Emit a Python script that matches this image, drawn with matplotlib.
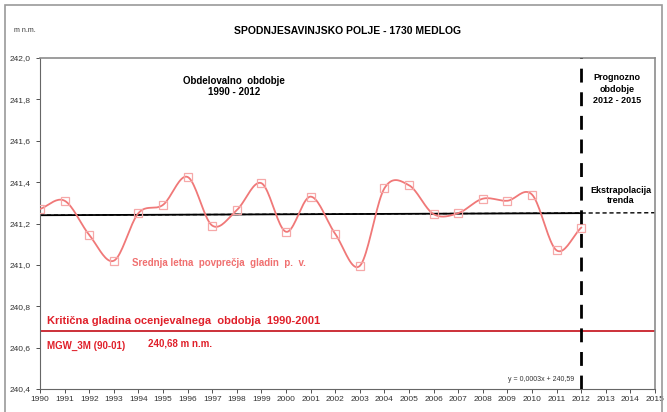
import numpy as np
import matplotlib
matplotlib.use("Agg")
import matplotlib.pyplot as plt
from matplotlib.patches import Rectangle
from matplotlib.ticker import FuncFormatter

plt.rcParams['font.family'] = ['Liberation Sans', 'DejaVu Sans']

# ---- data ----
years = list(range(1990, 2013))
levels = [241.27, 241.31, 241.145, 241.02, 241.25, 241.29, 241.425, 241.19, 241.265,
          241.395, 241.16, 241.33, 241.15, 240.995, 241.37, 241.385, 241.245, 241.25,
          241.32, 241.31, 241.34, 241.07, 241.18]
trend_years = [1990, 2012]
trend_values = [241.24, 241.25]
extrap_years = [1990, 2015]
extrap_values = [241.24, 241.252]
critical_level = 240.68
forecast_start = 2012
x_ticks = list(range(1990, 2016))
y_ticks = [240.4, 240.6, 240.8, 241.0, 241.2, 241.4, 241.6, 241.8, 242.0]


def catmull_rom(x, y, n=20):
    x = np.asarray(x, float)
    y = np.asarray(y, float)
    px = np.concatenate([[2 * x[0] - x[1]], x, [2 * x[-1] - x[-2]]])
    py = np.concatenate([[2 * y[0] - y[1]], y, [2 * y[-1] - y[-2]]])
    xs, ys = [], []
    for i in range(1, len(px) - 2):
        t = np.linspace(0, 1, n, endpoint=False)
        for arr, out in ((px, xs), (py, ys)):
            p0, p1, p2, p3 = arr[i - 1], arr[i], arr[i + 1], arr[i + 2]
            out.extend(0.5 * ((2 * p1) + (-p0 + p2) * t + (2 * p0 - 5 * p1 + 4 * p2 - p3) * t ** 2
                              + (-p0 + 3 * p1 - 3 * p2 + p3) * t ** 3))
    xs.append(x[-1]); ys.append(y[-1])
    return np.array(xs), np.array(ys)


fig = plt.figure(figsize=(6.67, 4.12), dpi=100)
ax = fig.add_axes([40 / 667, 23 / 412, 615 / 667, 331 / 412])

# outer chart border
fig.patches.append(Rectangle((5 / 667, -0.01), 657 / 667, 1 - 5 / 412 + 0.01, transform=fig.transFigure,
                             fill=False, edgecolor='#9a9a9a', linewidth=1.2))

ax.set_xlim(1990, 2015)
ax.set_ylim(240.4, 242.0)
ax.set_xticks(x_ticks)
ax.set_yticks(y_ticks)
ax.yaxis.set_major_formatter(FuncFormatter(lambda v, p: f"{v:.1f}".replace('.', ',')))
ax.tick_params(axis='both', labelsize=6, colors='#333333', length=3, width=0.6, direction='out')
ax.tick_params(axis='x', pad=2)
for s in ['left', 'bottom']:
    ax.spines[s].set_color('#666666')
    ax.spines[s].set_linewidth(0.8)
for s in ['top', 'right']:
    ax.spines[s].set_color('#8c8c8c')
    ax.spines[s].set_linewidth(1.2)

# trend
ax.plot(extrap_years, extrap_values, color='black', linewidth=1.0, linestyle=(0, (3, 2)), zorder=2)
ax.plot(trend_years, trend_values, color='black', linewidth=1.3, zorder=2)

# critical level
ax.axhline(critical_level, color='#c8202a', linewidth=1.3, zorder=2)

# forecast divider
ax.axvline(forecast_start, color='black', linewidth=2.0, linestyle=(0, (5, 3.5)), zorder=4)

# smoothed series
sx, sy = catmull_rom(years, levels)
ax.plot(sx, sy, color='#f07878', linewidth=1.3, zorder=3)
ax.plot(years, levels, linestyle='none', marker='s', markersize=5.5, markerfacecolor='none',
        markeredgecolor='#f6a8a8', markeredgewidth=0.9, zorder=3)

# texts
fig.text(347 / 667, 1 - 31 / 412, 'SPODNJESAVINJSKO POLJE - 1730 MEDLOG', ha='center', va='center',
         fontsize=7.5, fontweight='bold', color='black')
fig.text(25 / 667, 1 - 31 / 412, 'm n.m.', ha='center', va='center', fontsize=5, color='#333333')

ax.text(1997.9, 241.862, 'Obdelovalno  obdobje\n1990 - 2012', ha='center', va='center', fontsize=7,
        fontweight='bold', linespacing=1.2)
ax.text(2013.45, 241.85, 'Prognozno\nobdobje\n2012 - 2015', ha='center', va='center', fontsize=6.5,
        fontweight='bold', linespacing=1.3)
ax.text(2013.6, 241.335, 'Ekstrapolacija\ntrenda', ha='center', va='center', fontsize=6.5,
        fontweight='bold', linespacing=1.25)
ax.text(1993.74, 241.009, 'Srednja letna  povprečja  gladin  p.  v.', ha='left', va='center', fontsize=7,
        fontweight='bold', color='#f07070')
ax.text(1990.3, 240.728, 'Kritična gladina ocenjevalnega  obdobja  1990-2001', ha='left', va='center',
        fontsize=8, fontweight='bold', color='#e0202a')
ax.text(1990.3, 240.608, 'MGW_3M (90-01)', ha='left', va='center', fontsize=7, fontweight='bold',
        color='#e0202a')
ax.text(1994.4, 240.618, '240,68 m n.m.', ha='left', va='center', fontsize=7, fontweight='bold',
        color='#e0202a')
ax.text(2011.7, 240.445, 'y = 0,0003x + 240,59', ha='right', va='center', fontsize=5, color='#333333')

fig.savefig('out.png', dpi=100)
